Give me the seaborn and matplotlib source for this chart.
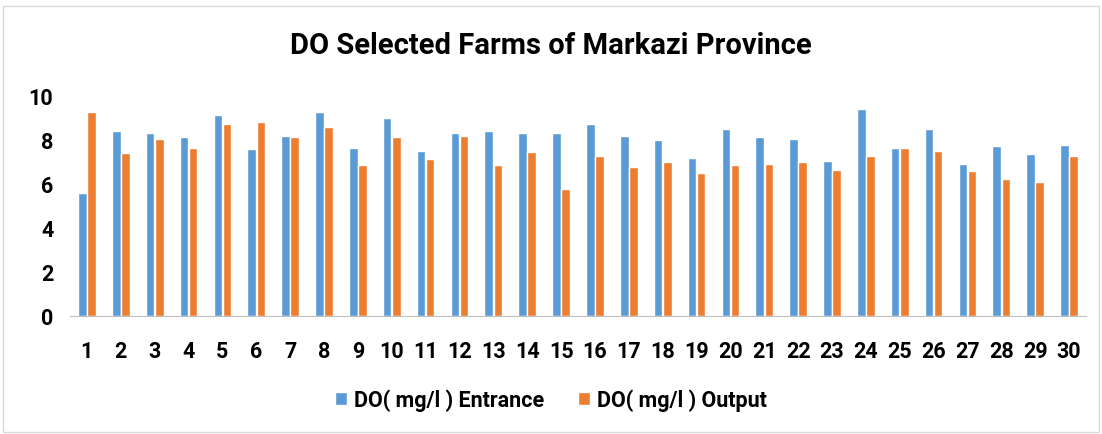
import pandas as pd
import matplotlib.pyplot as plt
import seaborn as sns
from matplotlib.patches import Rectangle

# DO values
farms = [str(i) for i in range(1, 31)]
entrance = [5.58, 8.39, 8.32, 8.12, 9.12, 7.58, 8.18, 9.26, 7.65, 8.98,
            7.52, 8.32, 8.39, 8.32, 8.32, 8.73, 8.18, 7.98, 7.18, 8.52,
            8.12, 8.05, 7.05, 9.39, 7.65, 8.52, 6.91, 7.71, 7.38, 7.77]
output = [9.26, 7.39, 8.05, 7.65, 8.73, 8.80, 8.12, 8.59, 6.85, 8.12,
          7.12, 8.18, 6.85, 7.45, 5.79, 7.26, 6.79, 6.98, 6.52, 6.85,
          6.91, 6.98, 6.65, 7.26, 7.65, 7.52, 6.58, 6.24, 6.11, 7.26]
series = ["DO( mg/l ) Entrance", "DO( mg/l ) Output"]

df = pd.DataFrame({
    "Farm": farms * 2,
    "DO": entrance + output,
    "Series": [series[0]] * len(farms) + [series[1]] * len(farms),
})

sns.set_style("white")
plt.rcParams["font.family"] = ["Roboto", "DejaVu Sans"]
plt.rcParams["text.color"] = "black"
plt.rcParams["xtick.color"] = "black"
plt.rcParams["ytick.color"] = "black"

fig = plt.figure(figsize=(11.02, 4.35), dpi=100)
ax = fig.add_axes([70 / 1102, 1 - 317 / 435, 1016 / 1102, 220 / 435])

sns.barplot(data=df, x="Farm", y="DO", hue="Series", order=farms, hue_order=series,
            palette=["#5B9BD5", "#ED7D31"], width=0.54, gap=0.06, ax=ax,
            saturation=1, legend=True)

ax.set_ylim(0, 10)
ax.set_xlim(-0.5, 29.5)
ax.set_yticks(range(0, 11, 2))
ax.set_xlabel("")
ax.set_ylabel("")
for s in ["top", "right", "left"]:
    ax.spines[s].set_visible(False)
ax.spines["bottom"].set_color("#BFBFBF")
ax.tick_params(axis="both", length=0, labelsize=15.5)
ax.tick_params(axis="y", pad=12)
ax.tick_params(axis="x", pad=17)
for lbl in ax.get_xticklabels() + ax.get_yticklabels():
    lbl.set_fontweight("bold")

fig.text(0.5, 1 - 46 / 435, "DO Selected Farms of Markazi Province", fontsize=21,
         fontweight="bold", ha="center", va="center")

handles, labels = ax.get_legend_handles_labels()
ax.legend_.remove()
fig.legend(handles, labels, loc="center", bbox_to_anchor=(0.5, 1 - 401 / 435), ncol=2,
           frameon=False, handlelength=0.55, handleheight=0.55, handletextpad=0.3,
           columnspacing=1.6, prop={"size": 15.5, "weight": "bold"})

fig.patches.append(Rectangle((3 / 1102, 2 / 435), 1096 / 1102, 426 / 435, transform=fig.transFigure,
                             fill=False, edgecolor="#D9D9D9", linewidth=1))

fig.savefig("out.png", dpi=100)
